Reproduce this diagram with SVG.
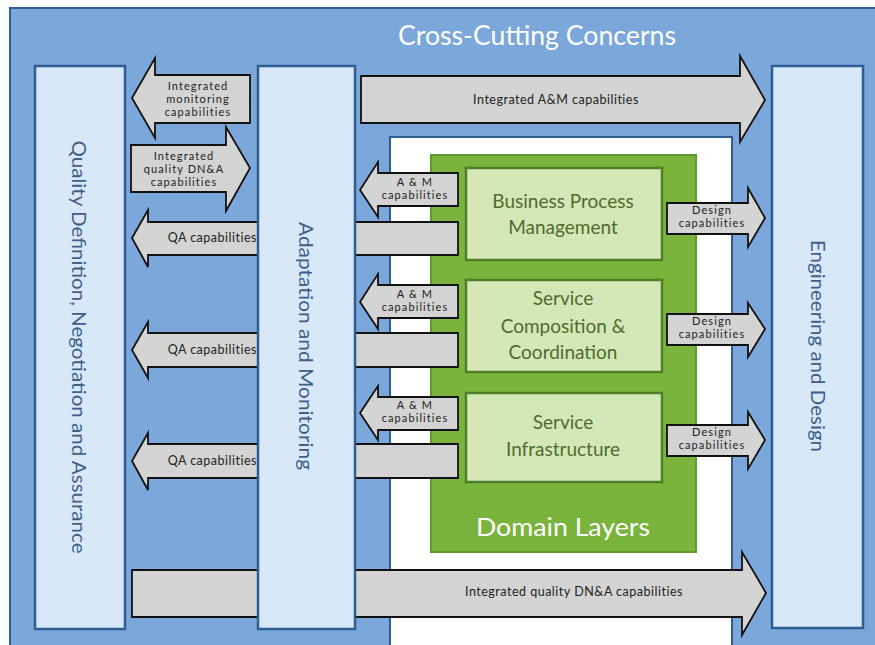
<svg xmlns="http://www.w3.org/2000/svg" width="875" height="645" viewBox="0 0 875 645">
<style>
.arr{fill:#d4d4d4;stroke:#111;stroke-width:1.8;stroke-linejoin:miter}
.col{fill:#d9e8f8;stroke:#2f5e95;stroke-width:2.5}
.lay{fill:#d3e8b6;stroke:#4f7f2a;stroke-width:2.5}
.at{font-family:Lato,"Liberation Sans",sans-serif;font-size:12.5px;letter-spacing:0.5px;fill:#222;text-anchor:middle}
.mt{font-family:Lato,"Liberation Sans",sans-serif;font-size:11px;letter-spacing:1.1px;fill:#222;text-anchor:middle}
.ct{font-family:Lato,"Liberation Sans",sans-serif;font-size:20px;fill:#3d5f8c;text-anchor:middle}
.lt{font-family:Lato,"Liberation Sans",sans-serif;font-size:19px;fill:#4f6b30;text-anchor:middle}
.wt{font-family:Lato,"Liberation Sans",sans-serif;fill:#ffffff;text-anchor:middle}
</style>
<rect x="0" y="0" width="875" height="645" fill="#ffffff"/>
<g id="background">
<rect x="10" y="8" width="880" height="660" fill="#7ba7da" stroke="#2f5e95" stroke-width="2"/>
<rect x="390" y="137" width="342" height="520" fill="#ffffff" stroke="#2f5e95" stroke-width="2"/>
<text class="wt" x="537" y="45" font-size="26" textLength="278" lengthAdjust="spacingAndGlyphs">Cross-Cutting Concerns</text>
</g>
<g id="domain-layers">
<rect x="431" y="155" width="265" height="397" fill="#7ab43c" stroke="#5e9a2c" stroke-width="2"/>
<text class="wt" x="563" y="536" font-size="25" textLength="174" lengthAdjust="spacingAndGlyphs">Domain Layers</text>
</g>
<g id="connectors">
<polygon class="arr" points="361,76 740,76 740,56 765,100 740,142 740,123 361,123"/>
<polygon class="arr" points="250,75 155,75 155,58 132,98 155,138 155,123 250,123"/>
<polygon class="arr" points="131,145 226,145 226,127 250,168 226,211 226,192 131,192"/>
<polygon class="arr" points="458,222 148,222 148,210 132,238 148,267 148,255 458,255"/>
<polygon class="arr" points="458,333 148,333 148,322 132,350 148,378 148,367 458,367"/>
<polygon class="arr" points="458,444 148,444 148,433 132,461 148,490 148,478 458,478"/>
<polygon class="arr" points="132,570 742,570 742,552 766,593 742,635 742,617 132,617"/>
<polygon class="arr" points="458,173 378,173 378,162 360,190 378,217 378,206 458,206"/>
<polygon class="arr" points="458,285 378,285 378,274 360,302 378,329 378,318 458,318"/>
<polygon class="arr" points="458,397 378,397 378,386 360,413 378,440 378,430 458,430"/>
<polygon class="arr" points="667,203 748,203 748,188 765,218 748,247 748,234 667,234"/>
<polygon class="arr" points="667,314 748,314 748,303 765,329 748,357 748,345 667,345"/>
<polygon class="arr" points="667,425 748,425 748,412 765,440 748,469 748,456 667,456"/>
<text class="at" x="556" y="104">Integrated A&amp;M capabilities</text>
<text class="mt" x="198" y="90">Integrated</text>
<text class="mt" x="198" y="103">monitoring</text>
<text class="mt" x="198" y="116">capabilities</text>
<text class="mt" x="184" y="160">Integrated</text>
<text class="mt" x="184" y="173">quality DN&amp;A</text>
<text class="mt" x="184" y="186">capabilities</text>
<text class="at" x="257" y="242" style="text-anchor:end">QA capabilities</text>
<text class="at" x="257" y="354" style="text-anchor:end">QA capabilities</text>
<text class="at" x="257" y="465" style="text-anchor:end">QA capabilities</text>
<text class="at" x="574" y="596">Integrated quality DN&amp;A capabilities</text>
<text class="mt" x="415" y="186">A &amp; M</text>
<text class="mt" x="415" y="199">capabilities</text>
<text class="mt" x="415" y="298">A &amp; M</text>
<text class="mt" x="415" y="311">capabilities</text>
<text class="mt" x="415" y="409">A &amp; M</text>
<text class="mt" x="415" y="422">capabilities</text>
<text class="mt" x="712" y="214">Design</text>
<text class="mt" x="712" y="227">capabilities</text>
<text class="mt" x="712" y="325">Design</text>
<text class="mt" x="712" y="338">capabilities</text>
<text class="mt" x="712" y="436">Design</text>
<text class="mt" x="712" y="449">capabilities</text>
</g>
<g id="quality-definition">
<rect class="col" x="35" y="66" width="90" height="563"/>
<text class="ct" transform="translate(72,347) rotate(90)" textLength="413" lengthAdjust="spacingAndGlyphs">Quality Definition, Negotiation and Assurance</text>
</g>
<g id="adaptation-monitoring">
<rect class="col" x="258" y="66" width="97" height="563"/>
<text class="ct" transform="translate(299,346) rotate(90)" textLength="248" lengthAdjust="spacingAndGlyphs">Adaptation and Monitoring</text>
</g>
<g id="engineering-design">
<rect class="col" x="772" y="66" width="91" height="562"/>
<text class="ct" transform="translate(811,346) rotate(90)" textLength="212" lengthAdjust="spacingAndGlyphs">Engineering and Design</text>
</g>
<g id="bpm">
<rect class="lay" x="466" y="168" width="196" height="92"/>
<text class="lt" x="563" y="208">Business Process</text>
<text class="lt" x="563" y="234">Management</text>
</g>
<g id="scc">
<rect class="lay" x="466" y="280" width="196" height="92"/>
<text class="lt" x="563" y="305">Service</text>
<text class="lt" x="563" y="333">Composition &amp;</text>
<text class="lt" x="563" y="359">Coordination</text>
</g>
<g id="si">
<rect class="lay" x="466" y="393" width="196" height="89"/>
<text class="lt" x="563" y="429">Service</text>
<text class="lt" x="563" y="456">Infrastructure</text>
</g>
</svg>
